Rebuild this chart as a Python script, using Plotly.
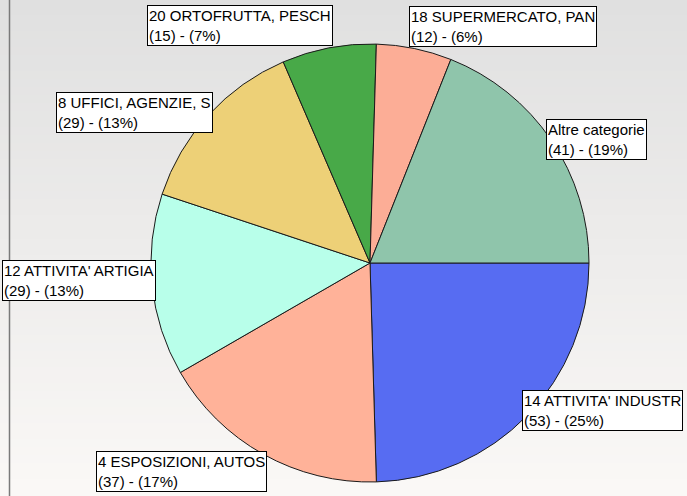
import math
import plotly.graph_objects as go

# ---- data ----
categories = ["14 ATTIVITA' INDUSTR", "4 ESPOSIZIONI, AUTOS", "12 ATTIVITA' ARTIGIA",
              "8 UFFICI, AGENZIE, S", "20 ORTOFRUTTA, PESCH", "18 SUPERMERCATO, PAN",
              "Altre categorie"]
counts = [53, 37, 29, 29, 15, 12, 41]

# ---- styles ----
slice_colors = ["#576CF2", "#FFB299", "#B8FFEA", "#EDD077", "#48A948", "#FCAD96", "#8FC5AB"]
label_yanchor = ["middle", "top", "middle", "middle", "bottom", "bottom", "middle"]
label_yshift = [5, 3, 5, 3, 2, 2, 1]

W, H = 687, 496
# pie placement in pixels
PIE_L, PIE_R, PIE_T, PIE_B = 151, 589, 44, 482
cx, cy = (PIE_L + PIE_R) / 2, (PIE_T + PIE_B) / 2
rad = (PIE_R - PIE_L) / 2

fig = go.Figure()
fig.add_trace(go.Pie(
    labels=categories, values=counts, sort=False, direction="clockwise", rotation=90,
    textinfo="none", showlegend=False,
    marker=dict(colors=slice_colors, line=dict(color="#1a1a1a", width=1)),
    domain=dict(x=[PIE_L / W, PIE_R / W], y=[1 - PIE_B / H, 1 - PIE_T / H]),
))

total = sum(counts)
annotations = []
cum = 0
for i, (lab, v) in enumerate(zip(categories, counts)):
    mid = 2 * math.pi * (cum + v / 2) / total
    cum += v
    ax = cx + rad * math.cos(mid)
    ay = cy + rad * math.sin(mid)
    right_side = math.cos(mid) > 0
    pct = round(100 * v / total)
    annotations.append(dict(
        x=ax / W, y=1 - ay / H, xref="paper", yref="paper",
        text=f"{lab}<br>({v}) - ({pct}%)", showarrow=False, align="left",
        xanchor="left" if right_side else "right", yanchor=label_yanchor[i],
        xshift=-5 if right_side else 4, yshift=label_yshift[i],
        font=dict(family="Liberation Sans, Arial", size=15, color="#000000"),
        bgcolor="#FFFFFF", bordercolor="#000000", borderwidth=1, borderpad=1,
    ))

# background vertical gradient (grey at top to near-white at bottom)
shapes = []
N = 62
top_c = (224, 224, 224)
bot_c = (250, 248, 246)
for k in range(N):
    t = k / (N - 1)
    c = tuple(round(top_c[j] + (bot_c[j] - top_c[j]) * t) for j in range(3))
    shapes.append(dict(type="rect", xref="paper", yref="paper", layer="below",
                       x0=0, x1=1, y0=1 - (k + 1) / N, y1=1 - k / N + 0.002,
                       fillcolor=f"rgb{c}", line=dict(width=0)))
# left frame line
shapes.append(dict(type="line", xref="paper", yref="paper", layer="below",
                   x0=9.5 / W, x1=9.5 / W, y0=0, y1=1,
                   line=dict(color="#7a7a7a", width=1.5)))

fig.update_layout(
    width=W, height=H, autosize=False,
    margin=dict(l=0, r=0, t=0, b=0),
    paper_bgcolor="#EDEDED", plot_bgcolor="#EDEDED",
    annotations=annotations, shapes=shapes,
)
fig.write_html("out.html", config={"displayModeBar": False},
               post_script="document.body.style.margin='0';document.body.style.overflow='hidden';")
